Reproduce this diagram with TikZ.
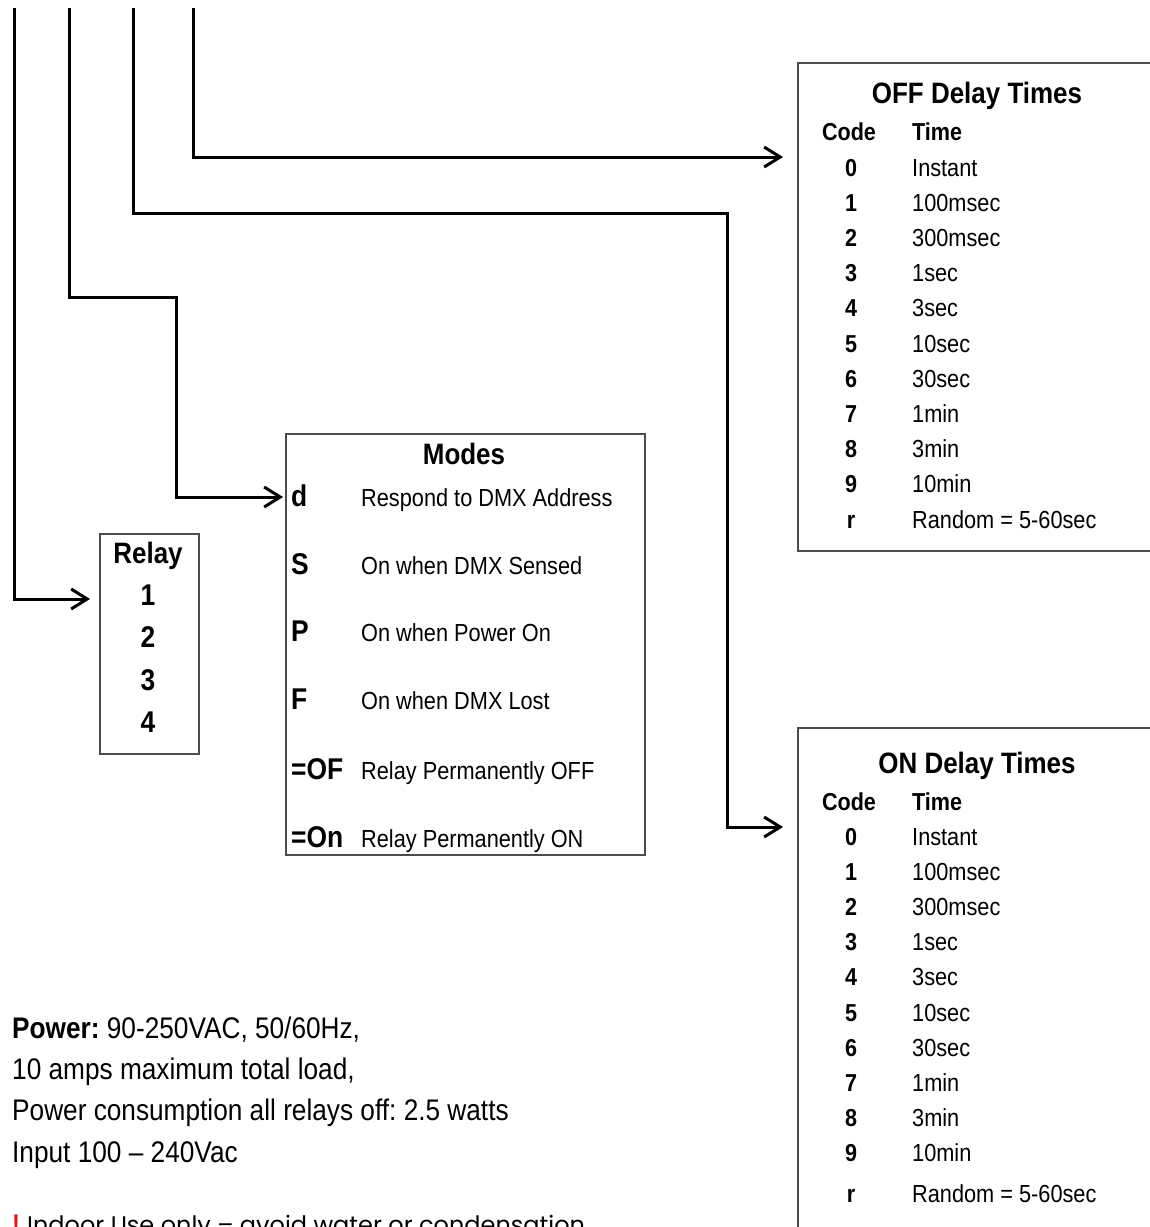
\documentclass[tikz,border=0pt]{standalone}
\usepackage{fontspec}
\setmainfont{Liberation Sans}[FakeStretch=0.88]
\newfontfamily\notefont{Poppins}
\usetikzlibrary{arrows.meta,positioning}

\definecolor{warnred}{RGB}{230,20,20}

\tikzset{
  wire/.style={line width=3pt, -{Straight Barb[length=16pt,width=20pt]}},
  frame/.style={draw=black!70, line width=1.5pt, rectangle, inner sep=0pt, anchor=north west},
  item/.style={inner sep=0pt, font=\fontsize{24.7}{28}\selectfont},
  code/.style={inner sep=0pt, font=\bfseries\fontsize{24.5}{28}\selectfont},
  bigcode/.style={inner sep=0pt, font=\bfseries\fontsize{30}{34}\selectfont},
  title/.style={inner sep=0pt, font=\bfseries\fontsize{29.5}{34}\selectfont},
  power/.style={inner sep=0pt, anchor=base west, font=\fontsize{29.8}{34}\selectfont}
}

\begin{document}
\frenchspacing
\begin{tikzpicture}[x=1pt,y=-1pt]
\useasboundingbox (0,0) rectangle (1150,1227);

% boxes
\node[frame, minimum width=99pt, minimum height=220pt] (relay) at (99,533) {};
\node[frame, minimum width=359pt, minimum height=421pt] (modes) at (285,433) {};
\node[frame, minimum width=380pt, minimum height=488pt] (offbox) at (797,62) {};
\node[frame, minimum width=380pt, minimum height=560pt] (onbox) at (797,727) {};

% wires from the top
\coordinate (t1) at (14,8);
\coordinate (t2) at (69,8);
\coordinate (t3) at (133,8);
\coordinate (t4) at (193,8);
\coordinate (e2) at (176,297);
\coordinate (e3) at (727,213);

\draw[wire, shorten >=9pt] (t1) |- ([yshift=-66pt]relay.north west);
\draw[wire, shorten >=2pt] (t2) |- (e2) |- ([yshift=-64pt]modes.north west);
\draw[wire, shorten >=14pt] (t3) |- (e3) |- ([yshift=-100pt]onbox.north west);
\draw[wire, shorten >=14pt] (t4) |- ([yshift=-95pt]offbox.north west);

% relay
\node[title, anchor=base] (relayhd) at (148,563.5) {Relay};
\foreach \n [count=\i from 0] in {1,2,3,4}
  \node[bigcode, anchor=base] (relay\n) at (148,605.5+42.3*\i) {\n};

% modes
\node[title, anchor=base] (modeshd) at (464,464) {Modes};
\foreach \c/\t/\y [count=\i] in {d/Respond to DMX Address/497,S/On when DMX Sensed/565,P/On when Power On/632,F/On when DMX Lost/700,=OF/Relay Permanently OFF/770,=On/Relay Permanently ON/838}{
  \node[bigcode, anchor=base west] (mcode\i) at (291,\y+9) {\c};
  \node[item, anchor=base west] (mtext\i) at (361,\y+9) {\t};
}

% off delay
\node[title, anchor=base] (offhd) at (977,103) {OFF Delay Times};
\node[code, anchor=base] (offcodehd) at (849,140) {Code};
\node[code, anchor=base west] (offtimehd) at (912,140) {Time};
\foreach \c/\t [count=\i from 0] in {0/Instant,1/100msec,2/300msec,3/1sec,4/3sec,5/10sec,6/30sec,7/1min,8/3min,9/10min,r/Random = 5-60sec}{
  \node[code, anchor=base] (offc\i) at (851,176+35.2*\i) {\c};
  \node[item, anchor=base west] (offt\i) at (912,176+35.2*\i) {\t};
}

% on delay
\node[title, anchor=base] (onhd) at (977,773) {ON Delay Times};
\node[code, anchor=base] (oncodehd) at (849,810) {Code};
\node[code, anchor=base west] (ontimehd) at (912,810) {Time};
\foreach \c/\t [count=\i from 0] in {0/Instant,1/100msec,2/300msec,3/1sec,4/3sec,5/10sec,6/30sec,7/1min,8/3min,9/10min}{
  \node[code, anchor=base] (onc\i) at (851,845+35.2*\i) {\c};
  \node[item, anchor=base west] (ont\i) at (912,845+35.2*\i) {\t};
}
\node[code, anchor=base] (oncr) at (851,1202) {r};
\node[item, anchor=base west] (ontr) at (912,1202) {Random = 5-60sec};

% power
\node[power] (pw1) at (12,1038) {\textbf{Power:} 90-250VAC, 50/60Hz,};
\node[power] (pw2) at (12,1079.3) {10 amps maximum total load,};
\node[power] (pw3) at (12,1120.6) {Power consumption all relays off: 2.5 watts};
\node[power] (pw4) at (12,1162) {Input 100 – 240Vac};

% note
\node[inner sep=0pt, anchor=base west, text=warnred, font=\bfseries\fontsize{27}{30}\selectfont] (bang) at (12,1233) {!};
\node[inner sep=0pt, anchor=base west, font=\notefont\fontsize{24}{30}\selectfont] (note) at (27,1233) {Indoor Use only – avoid water or condensation};
\end{tikzpicture}
\end{document}
